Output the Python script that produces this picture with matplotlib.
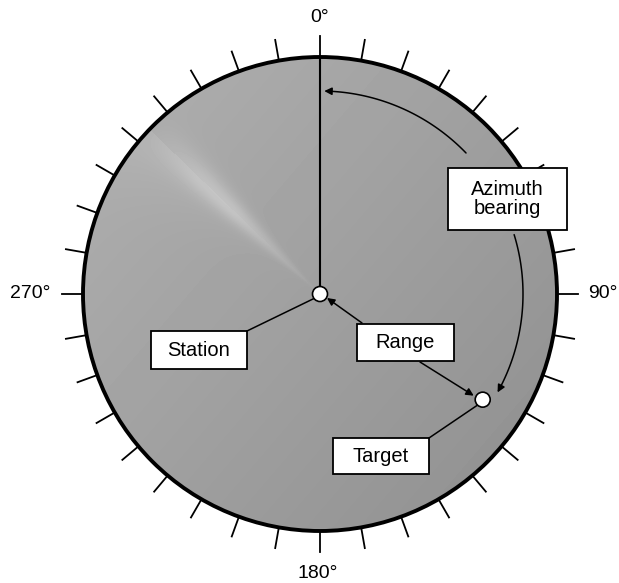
import numpy as np
import matplotlib
matplotlib.use("Agg")
import matplotlib.pyplot as plt
from matplotlib.patches import Circle, Rectangle, FancyArrowPatch
from matplotlib.path import Path

plt.rcParams["font.family"] = ["Liberation Sans", "DejaVu Sans"]

# scope geometry (pixel units, y down)
centre = (320, 294)
scope_r = 237
tick_len = 21
tick_bearings = np.arange(0, 360, 10)

# cardinal labels
card_bearings = [0, 90, 180, 270]
card_labels = ["0°", "90°", "180°", "270°"]

# target
target_bearing = 123
target_range = 194

# sweep streak direction
sweep_bearing = 314

# boxes: label, x0, y0, x1, y1
box_names = ["Azimuth\nbearing", "Station", "Range", "Target"]
box_x0 = [448, 151, 357, 333]
box_y0 = [168, 331, 324, 438]
box_x1 = [567, 247, 454, 429]
box_y1 = [230, 369, 361, 474]


def pt(bearing, r):
    b = np.radians(bearing)
    return centre[0] + r * np.sin(b), centre[1] - r * np.cos(b)


fig = plt.figure(figsize=(6.19, 5.83), dpi=100)
ax = fig.add_axes([0, 0, 1, 1])
ax.set_xlim(0, 619)
ax.set_ylim(583, 0)
ax.axis("off")

# scope face with a faint sweep trail
yy, xx = np.mgrid[0:583, 0:619]
dx = xx - centre[0]
dy = centre[1] - yy
rr = np.hypot(dx, dy) / scope_r
bb = np.degrees(np.arctan2(dx, dy)) % 360
base = 0.625 - 0.035 * (xx - centre[0]) / scope_r - 0.03 * (yy - centre[1]) / scope_r
diff = (bb - sweep_bearing + 180) % 360 - 180
streak = np.exp(-(diff / 5.0) ** 2) * np.clip(rr * 1.4, 0, 1) * np.clip((1.0 - rr) * 2.0, 0, 1)
trail = np.exp(-(np.clip(diff, -40, 0) / 14) ** 2) * (diff < 0) * np.clip(rr, 0, 1)
face = np.clip(base + 0.15 * streak + 0.03 * trail, 0, 1)
im = ax.imshow(face, cmap="gray", vmin=0, vmax=1, extent=(0, 619, 583, 0), zorder=1)
clip = Circle(centre, scope_r, transform=ax.transData)
im.set_clip_path(clip)

ax.add_patch(Circle(centre, scope_r, fill=False, ec="black", lw=2.8, zorder=3))

for b in tick_bearings:
    x0, y0 = pt(b, scope_r)
    x1, y1 = pt(b, scope_r + tick_len)
    ax.plot([x0, x1], [y0, y1], color="black", lw=1.3, zorder=3)

for b, lab in zip(card_bearings, card_labels):
    if b == 0:
        ax.text(centre[0], 17, lab, ha="center", va="center", fontsize=14)
    elif b == 180:
        ax.text(centre[0] - 2, 573, lab, ha="center", va="center", fontsize=14)
    elif b == 90:
        ax.text(588, centre[1], lab, ha="left", va="center", fontsize=14)
    else:
        ax.text(50, centre[1], lab, ha="right", va="center", fontsize=14)

# north line
ax.plot([centre[0], centre[0]], [centre[1], centre[1] - scope_r], color="black", lw=1.5, zorder=4)

tx, ty = pt(target_bearing, target_range)

# azimuth arcs
arc_r = 203
for b0, b1 in [(46, 1.2), (73, 119)]:
    bs = np.linspace(b0, b1, 60)
    pts = np.array([pt(b, arc_r) for b in bs])
    arr = FancyArrowPatch(path=Path(pts), arrowstyle="-|>", mutation_scale=11,
                          color="black", lw=1.1, zorder=5)
    ax.add_patch(arr)

# range arrows
ax.add_patch(FancyArrowPatch((362, 323), (centre[0] + 7, centre[1] + 4), arrowstyle="-|>",
                             mutation_scale=11, color="black", lw=1.1, zorder=5, shrinkA=0, shrinkB=0))
ax.add_patch(FancyArrowPatch((420, 362), (tx - 9, ty - 4), arrowstyle="-|>",
                             mutation_scale=11, color="black", lw=1.1, zorder=5, shrinkA=0, shrinkB=0))

# leader lines
ax.plot([247, centre[0] - 5], [331, centre[1] + 4], color="black", lw=1.1, zorder=4)
ax.plot([429, tx - 6], [438, ty + 6], color="black", lw=1.1, zorder=4)

# station and target dots
ax.add_patch(Circle(centre, 7.5, fc="white", ec="black", lw=1.2, zorder=6))
ax.add_patch(Circle((tx, ty), 7.5, fc="white", ec="black", lw=1.2, zorder=6))

for name, x0, y0, x1, y1 in zip(box_names, box_x0, box_y0, box_x1, box_y1):
    ax.add_patch(Rectangle((x0, y0), x1 - x0, y1 - y0, fc="white", ec="black", lw=1.3, zorder=7))
    ax.text((x0 + x1) / 2, (y0 + y1) / 2, name, ha="center", va="center",
            fontsize=14.5, linespacing=1.05, zorder=8)

fig.savefig("out.png", dpi=100)
